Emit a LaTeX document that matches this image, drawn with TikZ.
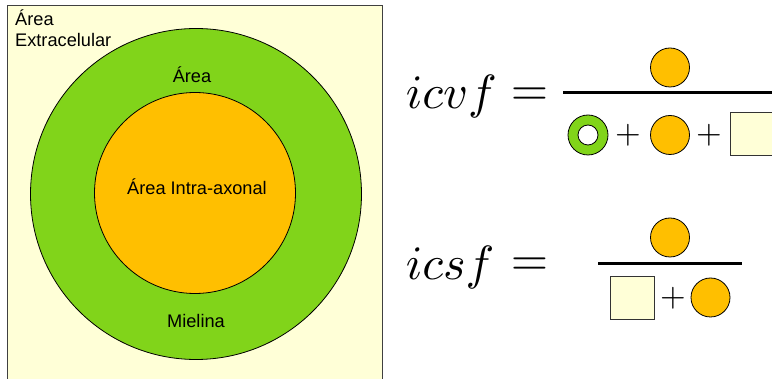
\documentclass[tikz,border=0pt]{standalone}
\usepackage[no-math]{fontspec}
\newfontfamily\lib{Liberation Sans}
\definecolor{myg}{HTML}{81D41A}
\definecolor{myo}{HTML}{FFBF00}
\definecolor{myy}{HTML}{FFFFD7}
\begin{document}
\begin{tikzpicture}[x=1pt,y=-1pt,
  lbl/.style={font=\lib\fontsize{18.2}{21}\selectfont, inner sep=0pt, text=black},
  orb/.style={circle, draw=black, line width=0.8pt, fill=myo, minimum size=39pt, inner sep=0pt},
  ring/.style={circle, draw=black, line width=0.8pt, fill=myg, minimum size=40pt, inner sep=0pt},
  hole/.style={circle, draw=black, line width=0.8pt, fill=white, minimum size=20pt, inner sep=0pt},
  sq/.style={rectangle, draw=black!80, line width=0.8pt, fill=myy, inner sep=0pt},
  mth/.style={font=\normalsize, inner sep=0pt, scale=4.8, transform shape},
  pls/.style={font=\normalsize, inner sep=0pt, scale=3.3, transform shape},
  bar/.style={line width=3pt}
]
\useasboundingbox (0,0) rectangle (772,379);
% left panel
\path[fill=myy, draw=black!75, line width=1pt] (7,6) rectangle (382,395);
\node[circle, draw=black, line width=0.8pt, fill=myg, minimum size=331pt, inner sep=0pt] (mye) at (196,194) {};
\node[circle, draw=black, line width=0.8pt, fill=myo, minimum size=201pt, inner sep=0pt] (axo) at (195,193) {};
\node[lbl, anchor=base west] (ext1) at (15,26) {Área};
\node[lbl, anchor=base west] (ext2) at (15,47) {Extracelular};
\node[lbl, anchor=base] (area) at (192,83) {Área};
\node[lbl, anchor=base] (intra) at (197,195) {Área Intra-axonal};
\node[lbl, anchor=base] (miel) at (196,328) {Mielina};
% icvf
\node[mth, anchor=base west] (icvf) at (405,109) {$icvf$};
\node[mth, anchor=west] (eq1) at (510,97) {$=$};
\node[orb] (n1) at (670,67.5) {};
\coordinate (b1s) at (563,93);
\coordinate (b1e) at (775,93);
\draw[bar] (b1s) -- (b1e);
\node[ring] (d1a) at (588,135) {};
\node[hole] (d1h) at (d1a) {};
\node[pls] (p1) at (628,135) {$+$};
\node[orb] (d1b) at (670,135) {};
\node[pls] (p2) at (709,135) {$+$};
\node[sq, minimum width=50pt, minimum height=43pt, anchor=north west] (d1c) at (730,112) {};
% icsf
\node[mth, anchor=base west] (icsf) at (405,280) {$icsf$};
\node[mth, anchor=west] (eq2) at (510,267) {$=$};
\node[orb] (n2) at (670,237.5) {};
\coordinate (b2s) at (598,264);
\coordinate (b2e) at (742,264);
\draw[bar] (b2s) -- (b2e);
\node[sq, minimum width=44pt, minimum height=43pt] (d2a) at (632,298) {};
\node[pls] (p3) at (673,298) {$+$};
\node[orb] (d2b) at (710.5,297.5) {};
\end{tikzpicture}
\end{document}
